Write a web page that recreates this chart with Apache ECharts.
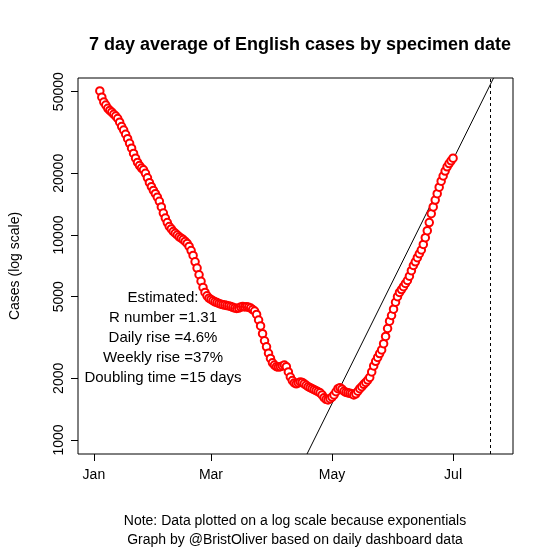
<!DOCTYPE html>
<html>
<head>
<meta charset="utf-8">
<script src="https://cdn.jsdelivr.net/npm/echarts@6/dist/echarts.min.js"></script>
<style>html,body{margin:0;padding:0;background:#fff}#chart{width:553px;height:552px}</style>
</head>
<body>
<div id="chart"></div>
<script>
// day index counted from 24 Dec 2020 (1 Jan = 8), first point on 4 Jan
const firstDay = 11;
const cases = [
  50400, 47000, 44500, 43000, 41500, 40500, 39700, 38800, 38000, 37000,
  35500, 33800, 32500, 31000, 29500, 28000, 26500, 25000, 23700, 22600,
  21800, 21200, 20800, 20000, 19000, 18000, 17200, 16500, 15900, 15300,
  14600, 13700, 12800, 12100, 11500, 11000, 10700, 10400, 10200, 10000,
  9800, 9650, 9500, 9300, 9100, 8800, 8400, 7950, 7400, 6900,
  6400, 5950, 5550, 5250, 5050, 4920, 4850, 4780, 4720, 4680,
  4640, 4600, 4570, 4550, 4530, 4510, 4480, 4440, 4400, 4380,
  4400, 4450, 4480, 4460, 4470, 4440, 4400, 4330, 4260, 4100,
  3850, 3600, 3300, 3050, 2850, 2650, 2500, 2380, 2320, 2280,
  2270, 2280, 2300, 2320, 2280, 2150, 2030, 1950, 1900, 1880,
  1900, 1920, 1910, 1880, 1850, 1820, 1800, 1780, 1760, 1740,
  1720, 1700, 1660, 1610, 1580, 1570, 1590, 1620, 1660, 1720,
  1780, 1800, 1770, 1730, 1710, 1700, 1690, 1680, 1660, 1680,
  1730, 1780, 1820, 1870, 1910, 1960, 2020, 2150, 2300, 2420,
  2530, 2640, 2750, 2950, 3200, 3500, 3800, 4050, 4350, 4700,
  5000, 5250, 5420, 5600, 5800, 6000, 6300, 6700, 7100, 7400,
  7750, 8100, 8450, 9000, 9700, 10500, 11500, 12700, 13700, 14800,
  15900, 17100, 18300, 19400, 20500, 21500, 22300, 23000, 23700
];
const fitLine = [[115.4, 855], [209.4, 58300]];
const projectionDay = 207.6;
const monthTicks = [8, 67, 128, 189];
const monthLabels = {8: 'Jan', 67: 'Mar', 128: 'May', 189: 'Jul'};
const yTicks = [1000, 2000, 5000, 10000, 20000, 50000];
const yMin = 855, yMax = 58300;
const notes = ['Estimated:', 'R number =1.31', 'Daily rise =4.6%', 'Weekly rise =37%', 'Doubling time =15 days'];

const points = cases.map((v, i) => [firstDay + i, v]);
const font = 'Liberation Sans, Arial, sans-serif';

const chart = echarts.init(document.getElementById('chart'));
chart.setOption({
  animation: false,
  title: {
    text: '7 day average of English cases by specimen date',
    left: 295, top: 31, textAlign: 'center',
    textStyle: {fontFamily: font, fontSize: 18, fontWeight: 'bold', color: '#000'}
  },
  grid: {left: 78, top: 78, right: 40, bottom: 98, show: true, borderColor: '#000', borderWidth: 1},
  xAxis: {
    type: 'value', min: 0, max: 219.2,
    axisLine: {show: false}, splitLine: {show: false},
    axisTick: {show: true, length: 7, lineStyle: {color: '#000'}, customValues: monthTicks},
    axisLabel: {customValues: monthTicks, formatter: v => monthLabels[v] || '', margin: 14,
      fontFamily: font, fontSize: 14, color: '#000'}
  },
  yAxis: [
    {
      type: 'log', logBase: 10, min: yMin, max: yMax, position: 'left',
      name: 'Cases (log scale)', nameLocation: 'middle', nameGap: 56, nameRotate: 90,
      nameTextStyle: {fontFamily: font, fontSize: 14, color: '#000'},
      axisLine: {show: false}, splitLine: {show: false}, minorTick: {show: false},
      axisTick: {show: false},
      axisLabel: {customValues: yTicks, rotate: 90, margin: 12, formatter: v => String(Math.round(v)),
        fontFamily: font, fontSize: 14, color: '#000'}
    },
    {
      // tick marks only, on the same log scale expressed in log10 units
      type: 'value', min: Math.log10(yMin), max: Math.log10(yMax), position: 'left',
      axisLine: {show: false, onZero: false}, splitLine: {show: false},
      axisTick: {show: true, length: 7, lineStyle: {color: '#000'}, customValues: yTicks.map(Math.log10)},
      axisLabel: {show: false}
    }
  ],
  graphic: notes.map((t, i) => ({
    type: 'text', x: 163, y: 290 + i * 20,
    style: {text: t, textAlign: 'center', fontFamily: font, fontSize: 15, fill: '#000'}
  })).concat([
    {type: 'text', x: 295, y: 514, style: {text: 'Note: Data plotted on a log scale because exponentials', textAlign: 'center', fontFamily: font, fontSize: 14, fill: '#000'}},
    {type: 'text', x: 295, y: 533, style: {text: 'Graph by @BristOliver based on daily dashboard data', textAlign: 'center', fontFamily: font, fontSize: 14, fill: '#000'}}
  ]),
  series: [
    {
      type: 'scatter', data: points, symbol: 'emptyCircle', symbolSize: 7.5,
      itemStyle: {color: '#ff0000', borderWidth: 0.8, opacity: 1}, z: 3
    },
    {
      type: 'line', data: fitLine, symbol: 'none', clip: true,
      lineStyle: {color: '#000', width: 1}, z: 2,
      markLine: {silent: true, symbol: 'none', label: {show: false},
        lineStyle: {color: '#000', type: [3, 3], width: 1},
        data: [{xAxis: projectionDay}]}
    }
  ]
});
</script>
</body>
</html>
